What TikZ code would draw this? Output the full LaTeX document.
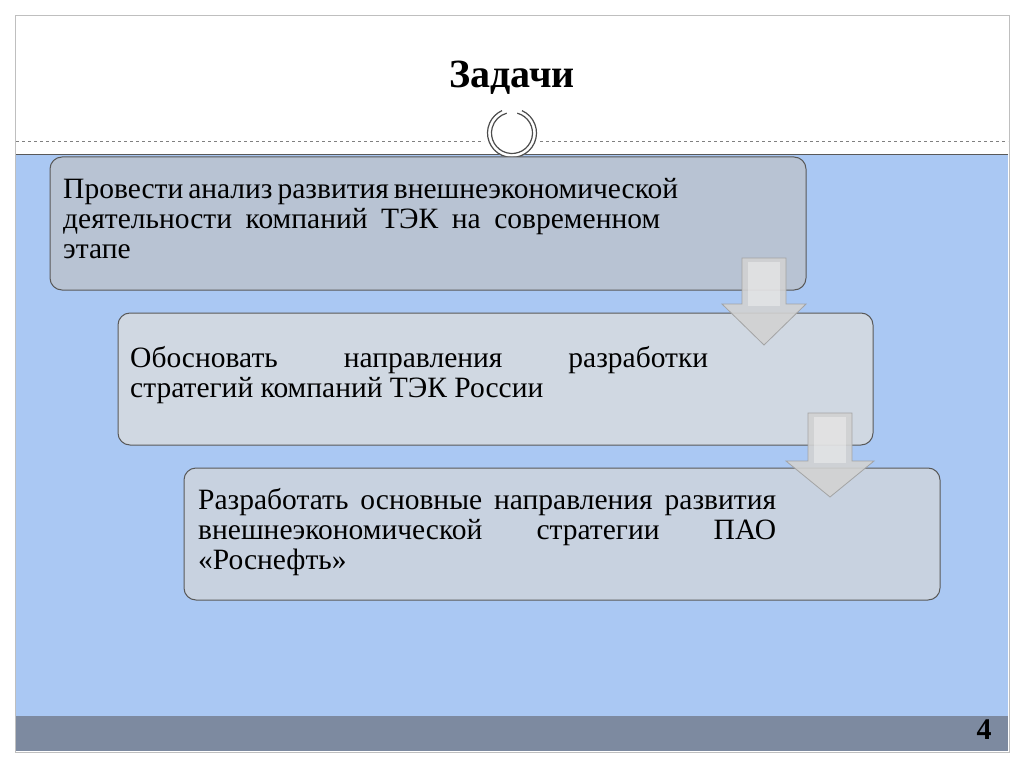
\documentclass[tikz,border=0pt]{standalone}
\usepackage{fontspec}
\setmainfont{Liberation Serif}
\definecolor{bgblue}{RGB}{170,200,243}
\definecolor{band}{RGB}{125,138,160}
\definecolor{boxa}{RGB}{184,195,211}
\definecolor{boxb}{RGB}{208,216,226}
\definecolor{boxc}{RGB}{200,210,224}
\begin{document}
\begin{tikzpicture}[x=1pt,y=-1pt,
  box/.style={draw=gray!70!black, line width=1pt, rounded corners=12pt},
  txt/.style={anchor=north west, inner sep=0pt, text width=597pt, align=justify, font=\fontsize{29.5}{30}\selectfont},
  arr/.style={fill=gray!35, draw=gray!75, line width=0.8pt, opacity=0.9}]
\useasboundingbox (0,0) rectangle (1024,767);
\fill[white] (0,0) rectangle (1024,767);
\draw[gray!50] (15,15) rectangle (1009,752);
\fill[bgblue] (16,155) rectangle (1008,716);
\draw[gray!70!black, line width=1pt] (16,155) -- (1008,155);
\fill[band] (16,716) rectangle (1008,751);
\node[font=\fontsize{40}{48}\selectfont\bfseries] (title) at (512,78) {Задачи};
\node[font=\fontsize{30}{36}\selectfont\bfseries] (num) at (984,730) {4};
\draw[gray, dashed, line width=0.5pt] (16,141) -- (484,141);
\draw[gray, dashed, line width=0.5pt] (540,141) -- (1008,141);
\fill[white] (512,133) circle (25);
\draw[gray!60!black, line width=1.2pt] (512,133) ++(-66:24.5) arc (-66:246:24.5);
\draw[gray!60!black, line width=1.2pt] (512,133) ++(-75:20.5) arc (-75:255:20.5);
% boxes
\draw[box, fill=boxa] (50,157) rectangle (806,290);
\node[txt] (t1) at (63,178) {Провести анализ развития внешнеэкономической деятельности компаний ТЭК на современном этапе};
\draw[box, fill=boxb] (118,313) rectangle (873,445);
\node[txt, text width=578pt] (t2) at (130,346) {Обосновать направления разработки стратегий компаний ТЭК России};
\draw[box, fill=boxc] (184,468) rectangle (940,600);
\node[txt, text width=578pt] (t3) at (198,488) {Разработать основные направления развития внешнеэкономической стратегии ПАО «Роснефть»};
% arrows
\draw[arr] (742,258) -- (786,258) -- (786,304) -- (806,304) -- (764,345) -- (722,304) -- (742,304) -- cycle;
\fill[white, opacity=0.35] (748,262) rectangle (780,306);
\draw[arr] (808,413) -- (852,413) -- (852,461) -- (874,461) -- (830,497) -- (786,461) -- (808,461) -- cycle;
\fill[white, opacity=0.35] (814,417) rectangle (846,463);
\end{tikzpicture}
\end{document}
